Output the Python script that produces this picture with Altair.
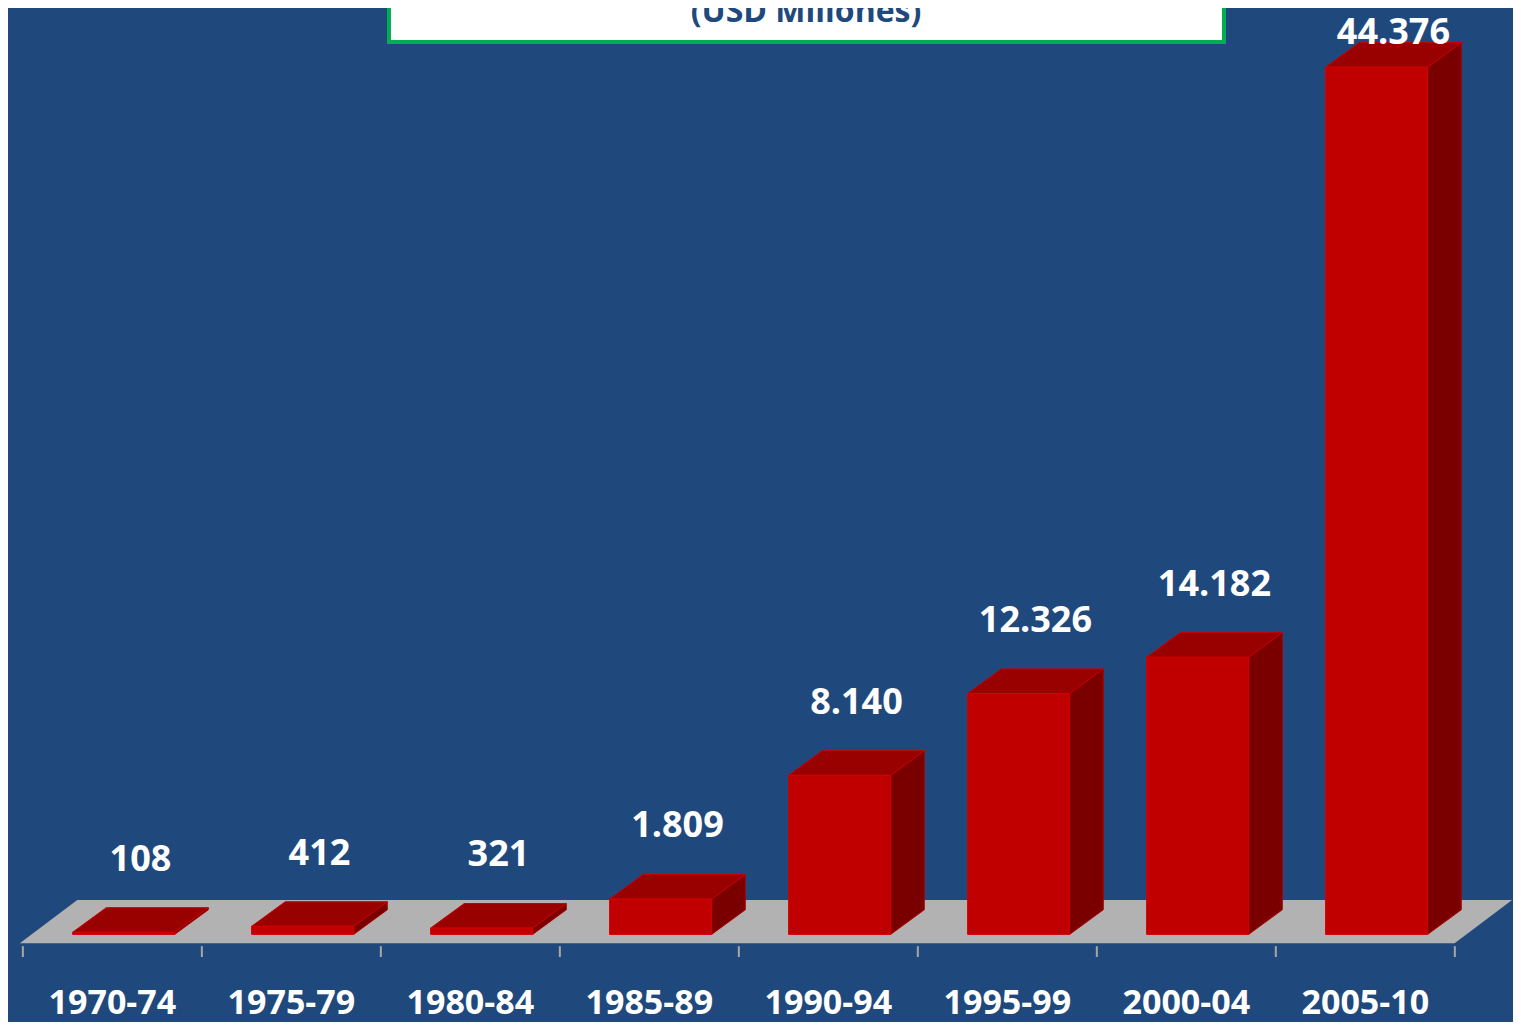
import altair as alt
import pandas as pd

# ---------------- data ----------------
categories = ["1970-74", "1975-79", "1980-84", "1985-89",
              "1990-94", "1995-99", "2000-04", "2005-10"]
values = [108, 412, 321, 1809, 8140, 12326, 14182, 44376]
value_labels = ["108", "412", "321", "1.809", "8.140", "12.326", "14.182", "44.376"]
title_text = "(USD Millones)"

# ---------------- layout constants ----------------
W, H = 1505, 1014
X_DOMAIN = [-0.583, 7.825]          # category index units
Y_DOMAIN = [-4484, 47406]           # value units
BAR_L, BAR_R = -0.222, 0.348        # front face extent around category index
DX = 0.188                          # 3D depth in x (index units)
DY = 1259                           # 3D depth in y (value units)
FLOOR_FRONT, FLOOR_BACK = -453, 1763
LABEL_GAP = 1900                    # gap above back top edge (value units)
LABEL_MAX = 45587
CAT_LABEL_Y = -4080

xs = alt.Scale(domain=X_DOMAIN, nice=False, zero=False)
ys = alt.Scale(domain=Y_DOMAIN, nice=False, zero=False)

n = len(categories)
idx = list(range(n))

front = pd.DataFrame({
    "cat": categories,
    "l": [i + BAR_L for i in idx],
    "r": [i + BAR_R for i in idx],
    "v0": [0] * n,
    "v": values,
})

top_rows, side_rows = [], []
for i, c, v in zip(idx, categories, values):
    top_rows.append({"cat": c, "y": v, "x": i + BAR_L, "x2": i + BAR_R})
    top_rows.append({"cat": c, "y": v + DY, "x": i + BAR_L + DX, "x2": i + BAR_R + DX})
    side_rows.append({"cat": c, "x": i + BAR_R, "y": 0, "y2": v})
    side_rows.append({"cat": c, "x": i + BAR_R + DX, "y": DY, "y2": v + DY})
top = pd.DataFrame(top_rows)
side = pd.DataFrame(side_rows)

floor = pd.DataFrame({
    "y": [FLOOR_FRONT, FLOOR_BACK],
    "x": [-0.517, -0.196],
    "x2": [7.499, 7.82],
})

ticks = pd.DataFrame({"x": [k - 0.5 for k in range(n + 1)],
                      "y": [-604] * (n + 1), "y2": [-1159] * (n + 1)})

cat_lab = pd.DataFrame({"cat": categories, "x": idx, "y": [CAT_LABEL_Y] * n})

val_lab = pd.DataFrame({
    "lab": value_labels,
    "x": [i + (BAR_L + BAR_R) / 2 + DX / 2 for i in idx],
    "y": [min(v + DY + LABEL_GAP, LABEL_MAX) for v in values],
})

FONT = "Open Sans"

floor_l = alt.Chart(floor).mark_area(orient="horizontal", color="#B2B2B2").encode(
    y=alt.Y("y:Q", scale=ys, axis=None),
    x=alt.X("x:Q", scale=xs, axis=None),
    x2="x2:Q",
)

side_l = alt.Chart(side).mark_area(orient="vertical", color="#7A0000",
                                   stroke="#B00000", strokeWidth=1).encode(
    x=alt.X("x:Q", scale=xs, axis=None),
    y=alt.Y("y:Q", scale=ys, axis=None),
    y2="y2:Q",
    detail="cat:N",
)

top_l = alt.Chart(top).mark_area(orient="horizontal", color="#990000",
                                 stroke="#C80000", strokeWidth=1).encode(
    y=alt.Y("y:Q", scale=ys, axis=None),
    x=alt.X("x:Q", scale=xs, axis=None),
    x2="x2:Q",
    detail="cat:N",
)

front_l = alt.Chart(front).mark_rect(color="#C00000", stroke="#D40000",
                                     strokeWidth=1).encode(
    x=alt.X("l:Q", scale=xs, axis=None),
    x2="r:Q",
    y=alt.Y("v0:Q", scale=ys, axis=None),
    y2="v:Q",
)

tick_l = alt.Chart(ticks).mark_rule(color="#A6A6A6", strokeWidth=2).encode(
    x=alt.X("x:Q", scale=xs, axis=None),
    y=alt.Y("y:Q", scale=ys, axis=None),
    y2="y2:Q",
)

cat_l = alt.Chart(cat_lab).mark_text(font=FONT, fontSize=34, fontWeight="bold",
                                     color="white", baseline="alphabetic",
                                     align="center").encode(
    x=alt.X("x:Q", scale=xs, axis=None),
    y=alt.Y("y:Q", scale=ys, axis=None),
    text="cat:N",
)

val_l = alt.Chart(val_lab).mark_text(font=FONT, fontSize=36, fontWeight="bold",
                                     color="white", baseline="alphabetic",
                                     align="center").encode(
    x=alt.X("x:Q", scale=xs, axis=None),
    y=alt.Y("y:Q", scale=ys, axis=None),
    text="lab:N",
)

box_l = alt.Chart(pd.DataFrame({"t": [title_text]})).mark_rect(
    fill="white", stroke="#00B050", strokeWidth=4).encode(
    x=alt.value(381), x2=alt.value(1216), y=alt.value(-20), y2=alt.value(34),
)

title_l = alt.Chart(pd.DataFrame({"t": [title_text]})).mark_text(
    font=FONT, fontSize=32, fontWeight="bold", color="#1F497D",
    baseline="alphabetic", align="center").encode(
    x=alt.value(798), y=alt.value(14), text="t:N",
)

chart = alt.layer(floor_l, side_l, top_l, front_l, tick_l, cat_l, val_l,
                  box_l, title_l).properties(
    width=W, height=H, padding=0, background="#1F497D",
    autosize=alt.AutoSizeParams(type="none"),
).configure_view(stroke=None)

chart.save("out.html", embed_options={"renderer": "svg", "actions": False})
